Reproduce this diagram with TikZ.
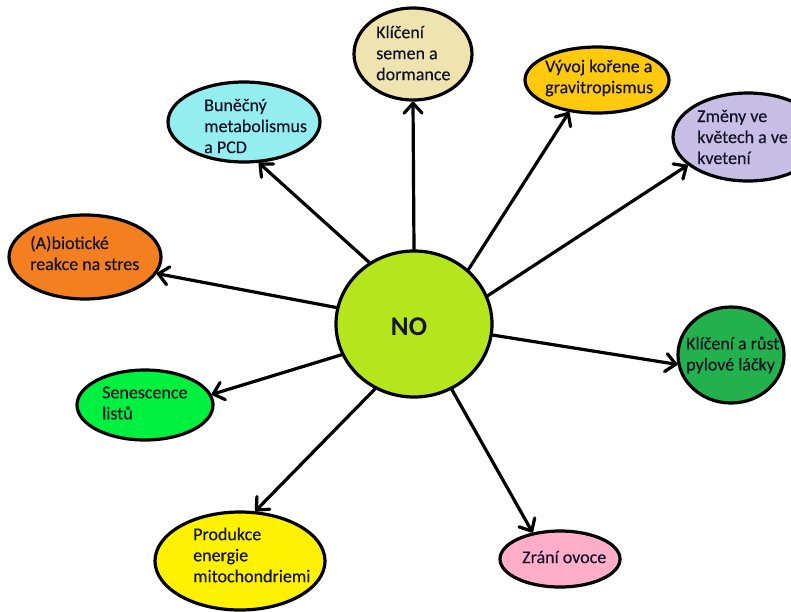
\documentclass[tikz,border=0pt]{standalone}
\usepackage{fontspec}
\setmainfont{Carlito}
\newfontfamily\lblfont{Carlito}[FakeBold=0.4]
\usetikzlibrary{shapes.geometric,arrows.meta}
\definecolor{txtcol}{HTML}{141428}
\definecolor{cno}{HTML}{B5E61D}
\definecolor{ckli}{HTML}{EFE4B0}
\definecolor{cbun}{HTML}{94EEF0}
\definecolor{cvyv}{HTML}{FFC90E}
\definecolor{czme}{HTML}{C8BFE7}
\definecolor{cabi}{HTML}{F47F20}
\definecolor{csen}{HTML}{00F040}
\definecolor{cpyl}{HTML}{22B14C}
\definecolor{cpro}{HTML}{FFF200}
\definecolor{czra}{HTML}{FFAEC9}
\begin{document}
\begin{tikzpicture}[x=1pt,y=-1pt,
  ell/.style={ellipse, draw=black, line width=3.2pt, inner sep=0pt},
  txt/.style={align=left, anchor=west, font=\lblfont\fontsize{18}{21}\selectfont, text=txtcol, inner sep=0pt},
  arr/.style={line width=3.2pt, line cap=round, -{Straight Barb[length=10pt,width=18pt,round]}}]
\useasboundingbox (0,0) rectangle (791,611);
\clip (0,0) rectangle (791,611);
\fill[white] (0,0) rectangle (791,611);
% ellipses
\node[ell, fill=cno, minimum width=156pt, minimum height=146pt] (no) at (414,324) {};
\node[ell, fill=ckli, minimum width=118pt, minimum height=92pt] (kli) at (413,54) {};
\node[ell, fill=cbun, minimum width=152pt, minimum height=80pt] (bun) at (244,122) {};
\node[ell, fill=cvyv, minimum width=144pt, minimum height=66pt] (vyv) at (597,80) {};
\node[ell, fill=czme, minimum width=150pt, minimum height=88pt] (zme) at (748,137) {};
\node[ell, fill=cabi, minimum width=152pt, minimum height=84pt] (abi) at (85,257) {};
\node[ell, fill=csen, minimum width=136pt, minimum height=70pt] (sen) at (145,405) {};
\node[ell, fill=cpyl, minimum width=106pt, minimum height=96pt] (pyl) at (731,355) {};
\node[ell, fill=cpro, minimum width=170pt, minimum height=98pt] (pro) at (240,561) {};
\node[ell, fill=czra, minimum width=120pt, minimum height=56pt] (zra) at (560,559) {};
% texts
\node[font=\fontsize{27}{30}\selectfont\bfseries, text=txtcol, inner sep=0pt] (not) at (409,327) {NO};
\node[txt] (klit) at (376,53) {Klíčení\\semen a\\dormance};
\node[txt] (bunt) at (204,126) {Buněčný\\metabolismus\\a PCD};
\node[txt] (vyvt) at (545,78) {Vývoj kořene a\\gravitropismus};
\node[txt] (zmet) at (697,137) {Změny ve\\květech a ve\\kvetení};
\node[txt] (abit) at (30,253) {(A)biotické\\reakce na stres};
\node[txt] (sent) at (102,403) {Senescence\\listů};
\node[txt] (pylt) at (686,355) {Klíčení a růst\\pylové láčky};
\node[txt] (prot) at (193,555) {Produkce\\energie\\mitochondriemi};
\node[txt] (zrat) at (522,557) {Zrání ovoce};
% arrows
\draw[arr] (no.90) -- (kli.270);
\draw[arr] (no.126.7) -- (bun.290);
\draw[arr] (no.45.5) -- (vyv.229);
\draw[arr] (no.21) -- (zme.205);
\draw[arr] (no.168) -- (abi.347);
\draw[arr] (no.203) -- (sen.9);
\draw[arr] (no.352) -- (pyl.190);
\draw[arr] (no.239) -- (pro.73);
\draw[arr] (no.300) -- (zra.136);
\end{tikzpicture}
\end{document}
